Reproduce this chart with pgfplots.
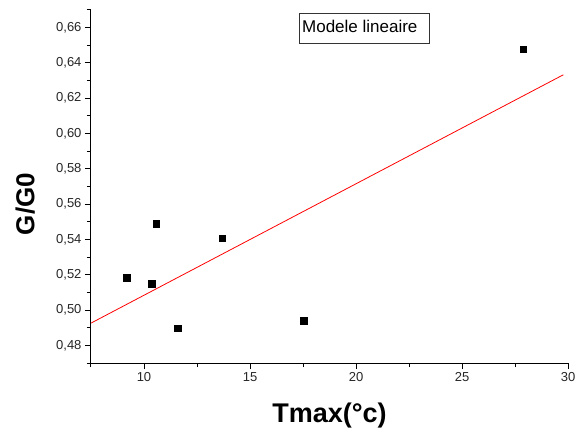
\documentclass[border=0pt]{standalone}
\usepackage{fontspec}
\setmainfont{Liberation Sans}
\usepackage{pgfplots}
\pgfplotsset{compat=1.18}
\begin{document}
\begin{tikzpicture}
\useasboundingbox (-91pt,-70pt) rectangle (484pt,363pt);
\begin{axis}[
  at={(0pt,0pt)}, anchor=south west,
  scale only axis, width=477pt, height=353pt,
  xmin=7.5, xmax=30, ymin=0.47, ymax=0.67,
  axis x line*=bottom, axis y line*=left,
  axis line style={line width=1pt},
  every tick/.style={black, line width=1pt},
  tick align=outside,
  major tick length=6pt, minor tick length=4pt,
  xtick={10,15,20,25,30},
  minor xtick={7.5,12.5,17.5,22.5,27.5},
  ytick={0.48,0.50,0.52,0.54,0.56,0.58,0.60,0.62,0.64,0.66},
  minor ytick={0.47,0.49,0.51,0.53,0.55,0.57,0.59,0.61,0.63,0.65,0.67},
  ticklabel style={font=\fontsize{13}{15}\selectfont, text=black!85},
  /pgf/number format/assume math mode=true,
  yticklabel style={/pgf/number format/.cd, use comma, fixed, fixed zerofill, precision=2},
  xticklabel style={/pgf/number format/.cd, fixed, precision=0},
  every axis x label/.style={at={(axis description cs:0.5,-0.169)}, anchor=base},
  every axis y label/.style={at={(axis description cs:-0.1189,0.45)}, anchor=base, rotate=90},
  xlabel={\fontsize{27}{30}\selectfont\bfseries Tmax(°c)},
  ylabel={\fontsize{26}{30}\selectfont\bfseries G/G0},
  clip=false,
]
\addplot[only marks, mark=square*, mark size=3.3pt, black] coordinates {
  (9.18,0.5183) (10.35,0.5149) (10.58,0.5489) (11.60,0.4898)
  (13.69,0.5407) (17.53,0.4941) (27.89,0.6477)
};
\addplot[red, line width=0.8pt] coordinates {(7.5,0.4926) (29.78,0.6333)};
\draw[black!80, line width=1pt] (rel axis cs:0.438,0.9906) rectangle (rel axis cs:0.7086,0.9057);
\node[anchor=base west, inner sep=0pt, font=\fontsize{17}{20}\selectfont] at (rel axis cs:0.4423,0.9368) {Modele lineaire};
\end{axis}
\end{tikzpicture}
\end{document}
